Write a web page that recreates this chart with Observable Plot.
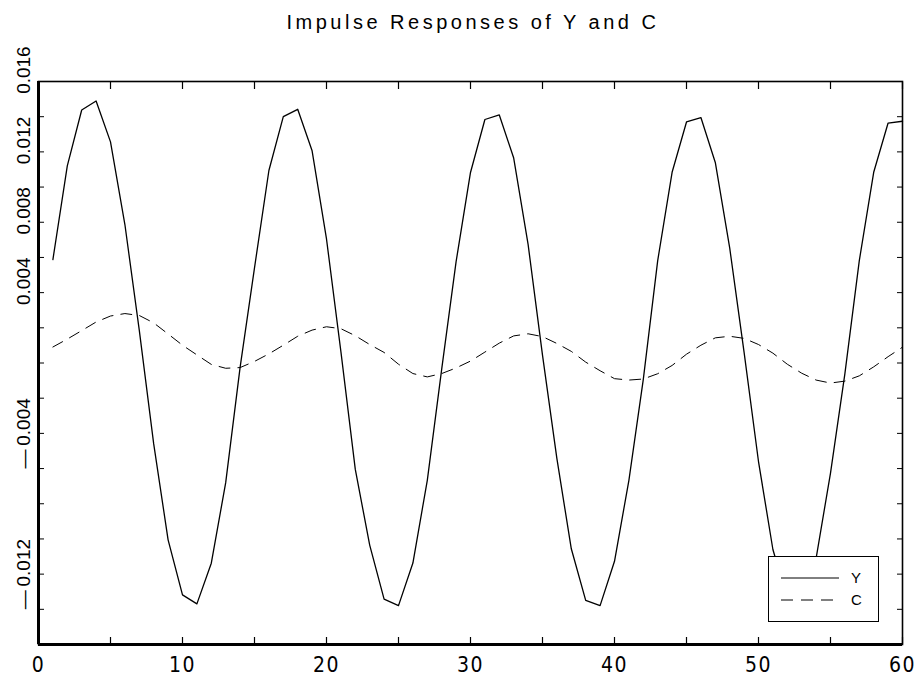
<!DOCTYPE html>
<html>
<head>
<meta charset="utf-8">
<script src="https://cdn.jsdelivr.net/npm/d3@7"></script>
<script src="https://cdn.jsdelivr.net/npm/@observablehq/plot@0.6"></script>
<style>
  html, body { margin: 0; padding: 0; background: #fff; }
  #wrap { position: relative; width: 917px; height: 677px; overflow: hidden; background: #fff; }
  #title { position: absolute; left: 0; top: 12px; width: 940px; padding-left: 3px; text-align: center;
           font-family: "Liberation Sans", Arial, sans-serif; font-size: 20px; line-height: 20px;
           letter-spacing: 3.5px; color: #000; white-space: nowrap; }
  #chart { position: absolute; left: 0; top: 40px; }
  #legend { position: absolute; left: 768px; top: 556px; width: 109px; height: 64px;
            border: 1px solid #000; background: #fff; }
  #legend svg { display: block; }
</style>
</head>
<body>
<div id="wrap">
  <div id="title">Impulse Responses of Y and C</div>
  <div id="chart"></div>
  <div id="legend"></div>
</div>
<script>
// Periods after the shock
const periods = d3.range(1, 61);

// Impulse response of Y
const yResp = [
  0.00588, 0.01120, 0.01438, 0.01489, 0.01257, 0.00787, 0.00185, -0.00460, -0.01005, -0.01318,
  -0.01369, -0.01138, -0.00680, -0.00025, 0.00541, 0.01094, 0.01400, 0.01442, 0.01206, 0.00705,
  0.00065, -0.00605, -0.01035, -0.01342, -0.01379, -0.01137, -0.00667, -0.00035, 0.00576, 0.01083,
  0.01384, 0.01410, 0.01165, 0.00674, 0.00045, -0.00544, -0.01056, -0.01349, -0.01379, -0.01127,
  -0.00667, -0.00093, 0.00582, 0.01084, 0.01370, 0.01395, 0.01140, 0.00654, 0.00060, -0.00560,
  -0.01060, -0.01340, -0.01370, -0.01110, -0.00626, -0.00060, 0.00582, 0.01084, 0.01364, 0.01374
];

// Impulse response of C
const cResp = [
  0.00091, 0.00136, 0.00184, 0.00233, 0.00267, 0.00281, 0.00270, 0.00228, 0.00165, 0.00101,
  0.00046, -0.00008, -0.00030, -0.00026, 0.00009, 0.00052, 0.00101, 0.00152, 0.00187, 0.00206,
  0.00195, 0.00155, 0.00105, 0.00060, -0.00007, -0.00060, -0.00079, -0.00060, -0.00028, 0.00011,
  0.00062, 0.00113, 0.00154, 0.00166, 0.00150, 0.00111, 0.00066, 0.00005, -0.00044, -0.00089,
  -0.00097, -0.00091, -0.00061, -0.00014, 0.00050, 0.00101, 0.00143, 0.00152, 0.00140, 0.00105,
  0.00056, -0.00007, -0.00058, -0.00097, -0.00114, -0.00103, -0.00073, -0.00022, 0.00036, 0.00090
];

const xLabelTicks = [0, 10, 20, 30, 40, 50, 60];
const xMinorTicks = d3.range(0, 61, 5);
const yMinorTicks = d3.range(-16, 17, 2).map(v => v / 1000);
const yLabelTicks = [0.016, 0.012, 0.008, 0.004, -0.004, -0.012];
const seriesNames = ["Y", "C"];

const data = periods.map((t, i) => ({t, Y: yResp[i], C: cResp[i]}));

const fmtY = v => (v < 0 ? "\u2014\u2009" : "\u2003\u2009") + Math.abs(v).toFixed(3);

const chart = Plot.plot({
  width: 917,
  height: 637,
  marginTop: 41,
  marginBottom: 33,
  marginLeft: 38,
  marginRight: 15,
  x: {domain: [0, 60]},
  y: {domain: [-0.016, 0.016]},
  style: {fontFamily: "'Liberation Sans', Arial, sans-serif", background: "white", color: "black"},
  marks: [
    Plot.frame({stroke: "black", strokeWidth: 1.6}),
    // inward minor ticks on all four sides
    Plot.axisX(xMinorTicks, {anchor: "bottom", tickSize: -7, tickFormat: () => "", label: null, strokeWidth: 1.2}),
    Plot.axisX(xMinorTicks, {anchor: "top", tickSize: -7, tickFormat: () => "", label: null, strokeWidth: 1.2}),
    Plot.axisY(yMinorTicks, {anchor: "left", tickSize: -6, tickFormat: () => "", label: null, strokeWidth: 1}),
    Plot.axisY(yMinorTicks, {anchor: "right", tickSize: -6, tickFormat: () => "", label: null, strokeWidth: 1}),
    // tick labels
    Plot.axisX(xLabelTicks, {anchor: "bottom", tickSize: 0, tickPadding: 13, label: null,
      fontSize: 21, className: "xlab",
      fontFamily: "'Liberation Sans Narrow', 'DejaVu Sans Condensed', 'Liberation Sans', sans-serif"}),
    Plot.axisY(yLabelTicks, {anchor: "left", tickSize: 0, tickPadding: 9, tickRotate: -90, label: null,
      tickFormat: fmtY, fontSize: 19}),
    // thick left and bottom axis lines
    Plot.ruleX([0], {stroke: "black", strokeWidth: 3}),
    Plot.ruleY([-0.016], {stroke: "black", strokeWidth: 3}),
    // series
    Plot.line(data, {x: "t", y: "Y", stroke: "black", strokeWidth: 1.3}),
    Plot.line(data, {x: "t", y: "C", stroke: "black", strokeWidth: 1, strokeDasharray: "11,8"})
  ]
});
document.getElementById("chart").appendChild(chart);
d3.select(chart).selectAll("g[aria-label='x-axis tick label'] text").attr("letter-spacing", "1.5px");

// Legend
const lg = d3.select("#legend").append("svg").attr("width", 109).attr("height", 64);
const rows = [{name: seriesNames[0], dash: null, y: 21}, {name: seriesNames[1], dash: "12,8", y: 43}];
rows.forEach(r => {
  lg.append("line").attr("x1", 12).attr("x2", 70).attr("y1", r.y).attr("y2", r.y)
    .attr("stroke", "black").attr("stroke-width", 1).attr("stroke-dasharray", r.dash);
  lg.append("text").attr("x", 82).attr("y", r.y).attr("dy", "0.36em")
    .attr("font-family", "'Liberation Sans', Arial, sans-serif").attr("font-size", 15)
    .text(r.name);
});
</script>
</body>
</html>
